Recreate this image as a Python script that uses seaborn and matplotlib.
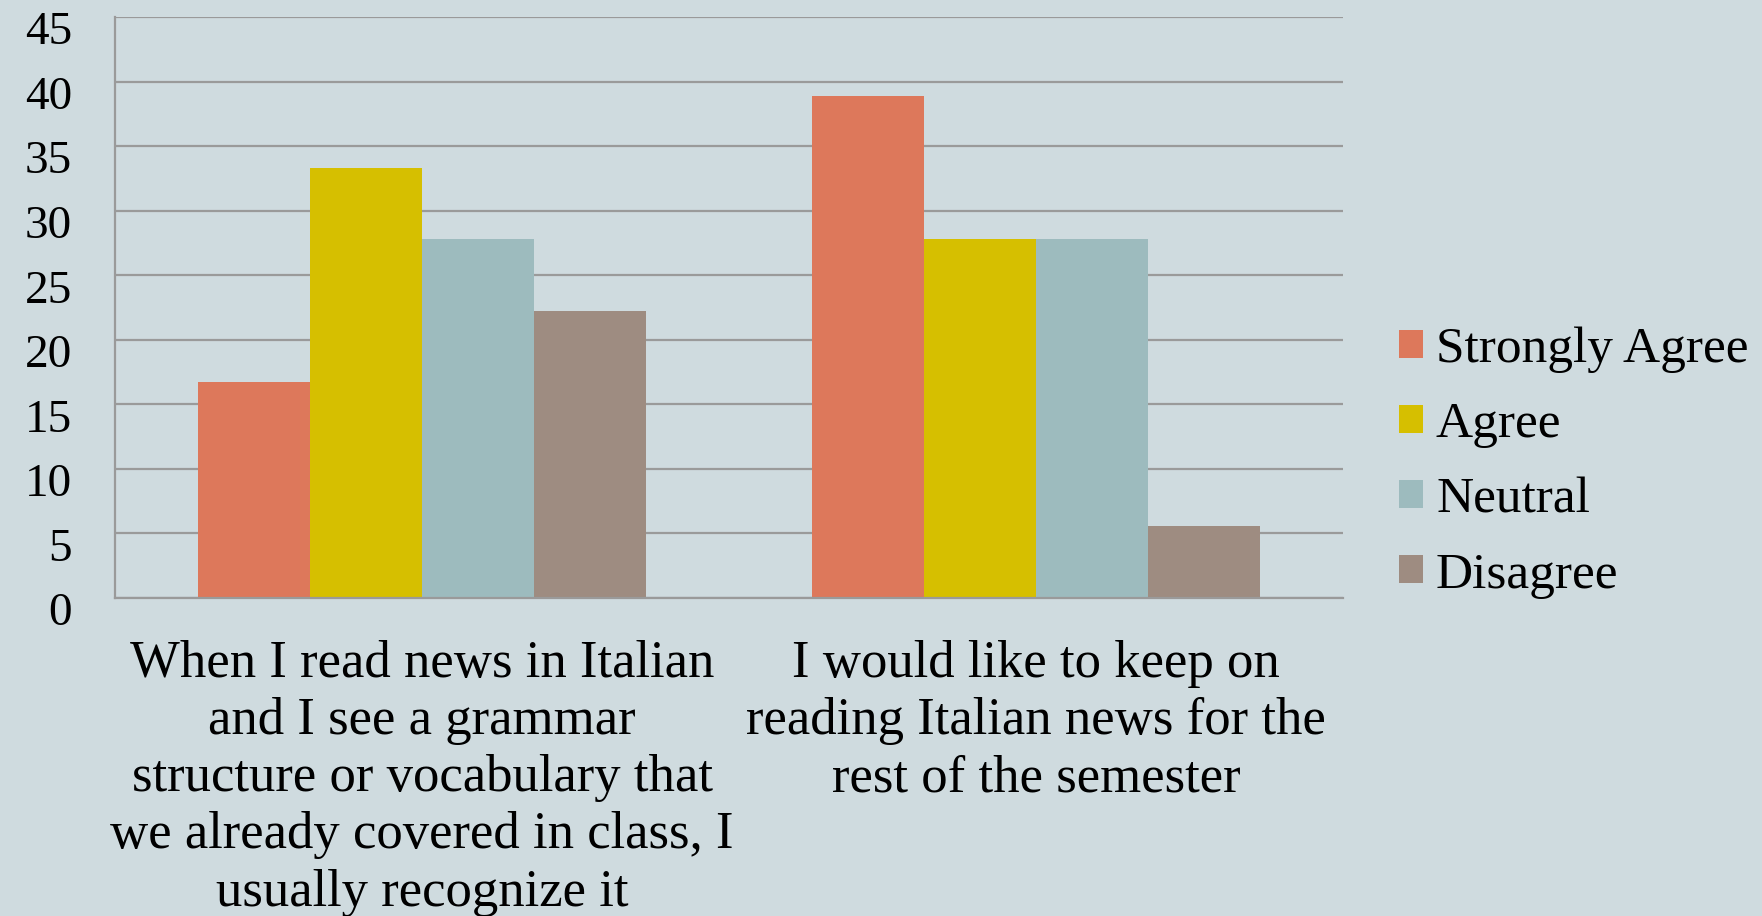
import matplotlib
matplotlib.use("Agg")
import matplotlib.pyplot as plt
import matplotlib.transforms as mtransforms
import seaborn as sns
import pandas as pd
from matplotlib.ticker import MultipleLocator, FixedLocator

# survey statements (x categories) and response levels
statements = [
    "When I read news in Italian\nand I see a grammar\nstructure or vocabulary that\nwe already covered in class, I\nusually recognize it",
    "I would like to keep on\nreading Italian news for the\nrest of the semester",
]
responses = ["Strongly Agree", "Agree", "Neutral", "Disagree"]
recognize_pct = [16.7, 33.3, 27.8, 22.2]
keep_reading_pct = [38.9, 27.8, 27.8, 5.6]
colors = ["#DD785B", "#D6BF00", "#9DBBBE", "#9E8C81"]

df = pd.DataFrame({
    "statement": [statements[0]] * 4 + [statements[1]] * 4,
    "response": responses * 2,
    "pct": recognize_pct + keep_reading_pct,
})

bg = "#CFDBDF"
grid_col = "#9A9A9A"
font = "Liberation Serif"

sns.set_style("white")
plt.rcParams["font.family"] = [font, "DejaVu Serif"]
plt.rcParams["text.color"] = "black"
plt.rcParams["xtick.color"] = "black"
plt.rcParams["ytick.color"] = "black"

fig = plt.figure(figsize=(17.62, 9.16), dpi=100, facecolor=bg)
ax = fig.add_axes([115 / 1762, 1 - 598 / 916, (1343 - 115) / 1762, (598 - 17) / 916])
ax.set_facecolor(bg)

sns.barplot(data=df, x="statement", y="pct", hue="response", hue_order=responses,
            palette=colors, width=0.73, gap=0, linewidth=0, saturation=1, ax=ax)

ax.set_xlim(-0.5, 1.5)
ax.set_ylim(0, 45)
ax.yaxis.set_major_locator(MultipleLocator(5))
ax.grid(axis="y", color=grid_col, linewidth=1.6)
ax.set_axisbelow(True)
ax.set_xlabel("")
ax.set_ylabel("")

for s in ["top", "right"]:
    ax.spines[s].set_visible(False)
for s in ["left", "bottom"]:
    ax.spines[s].set_color(grid_col)
    ax.spines[s].set_linewidth(1.6)

ax.tick_params(axis="y", length=14, width=1.6, color=grid_col, pad=17,
               labelsize=34, labelcolor="black")
ax.tick_params(axis="x", which="major", length=0, pad=30, labelsize=38, labelcolor="black")
ax.xaxis.set_minor_locator(FixedLocator([-0.5, 0.5, 1.5]))
ax.tick_params(axis="x", which="minor", length=13, width=1.6, color=grid_col)
for lbl in ax.get_xticklabels():
    lbl.set_linespacing(1.25)
    lbl.set_multialignment("center")

# y labels sit a bit below their gridlines
shift = mtransforms.ScaledTranslation(0, -8 / 72, fig.dpi_scale_trans)
for lbl in ax.get_yticklabels():
    lbl.set_transform(lbl.get_transform() + shift)

handles, labels = ax.get_legend_handles_labels()
ax.legend_.remove()
fig.legend(handles, labels, loc="center left", bbox_to_anchor=(1399 / 1762, 0.495),
           frameon=False, fontsize=37, handlelength=0.46, handleheight=0.46,
           handletextpad=0.26, labelspacing=0.56, borderpad=0, borderaxespad=0)

fig.savefig("out.png", dpi=100, facecolor=bg)
